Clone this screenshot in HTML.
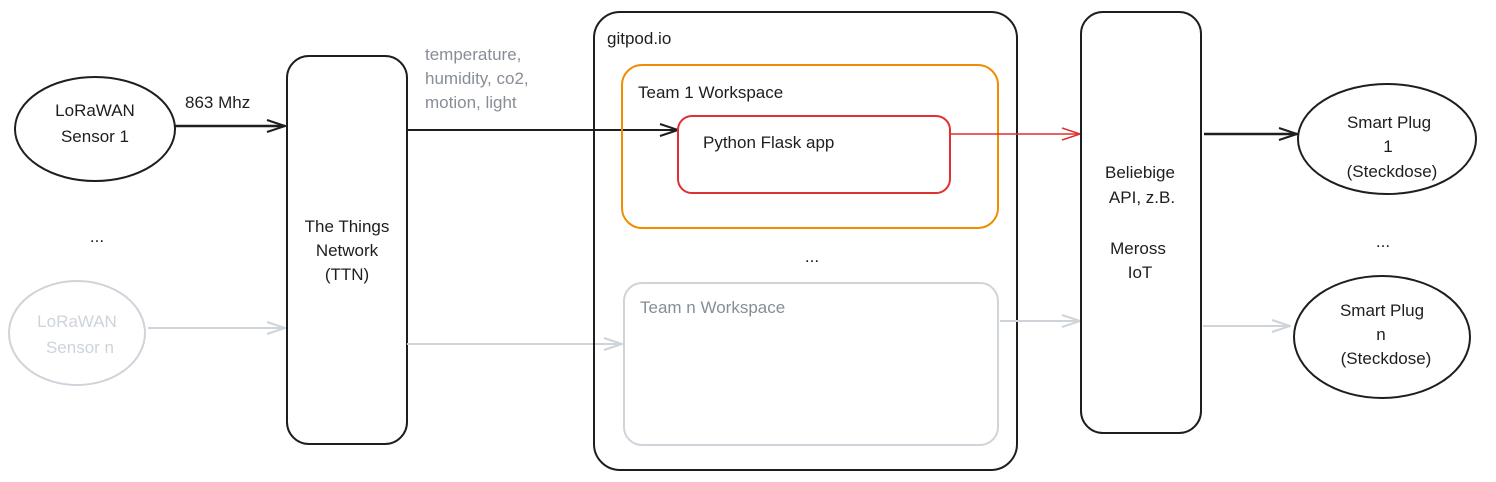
<!DOCTYPE html>
<html><head><meta charset="utf-8"><style>
html,body{margin:0;padding:0;background:#fff;}
svg{display:block;}
text{font-family:"Liberation Sans",sans-serif;font-size:17px;fill:#1e1e1e;}
.g{fill:#868e96;}
.lg{fill:#ced4da;}
</style></head><body>
<svg width="1496" height="482" viewBox="0 0 1496 482" xmlns="http://www.w3.org/2000/svg">
<defs>
<marker id="ab" markerWidth="20" markerHeight="14" refX="19" refY="7" orient="auto" markerUnits="userSpaceOnUse"><path d="M1,1 L19,7 L1,13" fill="none" stroke="#1e1e1e" stroke-width="2"/></marker>
<marker id="ar" markerWidth="20" markerHeight="14" refX="19" refY="7" orient="auto" markerUnits="userSpaceOnUse"><path d="M1,1 L19,7 L1,13" fill="none" stroke="#e03131" stroke-width="1.5"/></marker>
<marker id="ag" markerWidth="20" markerHeight="14" refX="19" refY="7" orient="auto" markerUnits="userSpaceOnUse"><path d="M1,1 L19,7 L1,13" fill="none" stroke="#ced4da" stroke-width="2"/></marker>
</defs>
<!-- Sensor 1 -->
<ellipse cx="95" cy="129" rx="80" ry="52" fill="none" stroke="#1e1e1e" stroke-width="2"/>
<text x="95" y="116" text-anchor="middle">LoRaWAN</text>
<text x="95" y="142" text-anchor="middle">Sensor 1</text>
<text x="185" y="108">863 Mhz</text>
<line x1="175" y1="126" x2="285" y2="126" stroke="#1e1e1e" stroke-width="2.5" marker-end="url(#ab)"/>
<text x="97" y="242" text-anchor="middle">...</text>
<!-- Sensor n -->
<ellipse cx="77" cy="333" rx="68" ry="52" fill="none" stroke="#ced4da" stroke-width="2"/>
<text x="77" y="327" text-anchor="middle" class="lg">LoRaWAN</text>
<text x="80" y="353" text-anchor="middle" class="lg">Sensor n</text>
<line x1="148" y1="328" x2="285" y2="328" stroke="#ced4da" stroke-width="2" marker-end="url(#ag)"/>
<!-- TTN -->
<rect x="287" y="56" width="120" height="388" rx="22" fill="none" stroke="#1e1e1e" stroke-width="2"/>
<text x="347" y="232" text-anchor="middle">The Things</text>
<text x="347" y="256" text-anchor="middle">Network</text>
<text x="347" y="280" text-anchor="middle">(TTN)</text>
<text x="425" y="60" class="g">temperature,</text>
<text x="425" y="84" class="g">humidity, co2,</text>
<text x="425" y="108" class="g">motion, light</text>
<line x1="407" y1="130" x2="678" y2="130" stroke="#1e1e1e" stroke-width="2" marker-end="url(#ab)"/>
<line x1="407" y1="344" x2="622" y2="344" stroke="#ced4da" stroke-width="2" marker-end="url(#ag)"/>
<!-- gitpod -->
<rect x="594" y="12" width="423" height="458" rx="26" fill="none" stroke="#1e1e1e" stroke-width="2"/>
<text x="607" y="44">gitpod.io</text>
<rect x="622" y="65" width="376" height="163" rx="20" fill="none" stroke="#f08c00" stroke-width="2"/>
<text x="638" y="98">Team 1 Workspace</text>
<rect x="678" y="116" width="272" height="77" rx="14" fill="none" stroke="#e03131" stroke-width="2"/>
<text x="703" y="148">Python Flask app</text>
<line x1="950" y1="134" x2="1080" y2="134" stroke="#e03131" stroke-width="1.5" marker-end="url(#ar)"/>
<text x="812" y="262" text-anchor="middle">...</text>
<rect x="624" y="283" width="374" height="162" rx="18" fill="none" stroke="#ced4da" stroke-width="2"/>
<text x="640" y="313" class="g">Team n Workspace</text>
<line x1="1000" y1="321" x2="1080" y2="321" stroke="#ced4da" stroke-width="2" marker-end="url(#ag)"/>
<!-- API -->
<rect x="1081" y="12" width="120" height="421" rx="22" fill="none" stroke="#1e1e1e" stroke-width="2"/>
<text x="1140" y="178" text-anchor="middle">Beliebige</text>
<text x="1142" y="203" text-anchor="middle">API, z.B.</text>
<text x="1138" y="254" text-anchor="middle">Meross</text>
<text x="1140" y="278" text-anchor="middle">IoT</text>
<line x1="1204" y1="134" x2="1297" y2="134" stroke="#1e1e1e" stroke-width="2.5" marker-end="url(#ab)"/>
<line x1="1203" y1="326" x2="1290" y2="326" stroke="#ced4da" stroke-width="2" marker-end="url(#ag)"/>
<!-- Plugs -->
<ellipse cx="1387" cy="139" rx="89" ry="55" fill="none" stroke="#1e1e1e" stroke-width="2"/>
<text x="1389" y="128" text-anchor="middle">Smart Plug</text>
<text x="1388" y="152" text-anchor="middle">1</text>
<text x="1392" y="177" text-anchor="middle">(Steckdose)</text>
<text x="1383" y="247" text-anchor="middle">...</text>
<ellipse cx="1382" cy="337" rx="88" ry="61" fill="none" stroke="#1e1e1e" stroke-width="2"/>
<text x="1382" y="316" text-anchor="middle">Smart Plug</text>
<text x="1381" y="340" text-anchor="middle">n</text>
<text x="1386" y="364" text-anchor="middle">(Steckdose)</text>
</svg>
</body></html>
